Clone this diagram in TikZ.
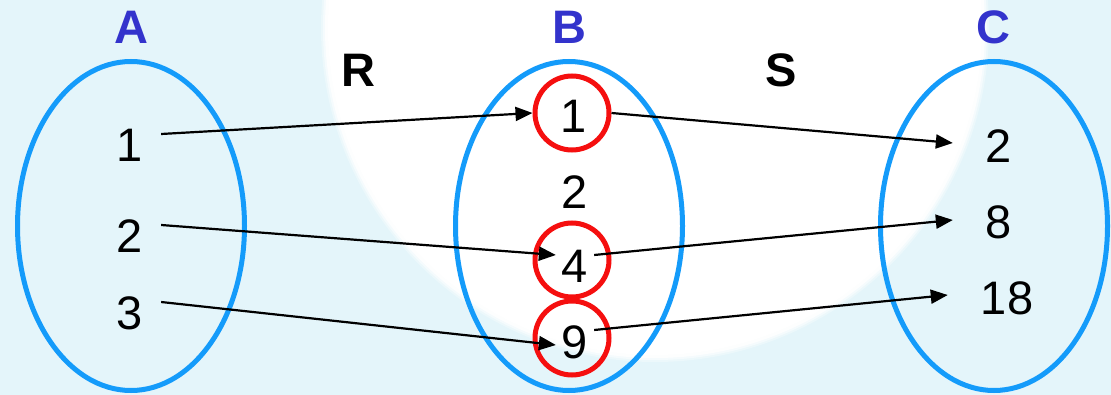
\documentclass[tikz,border=0pt]{standalone}
\usepackage{fontspec}
\setmainfont{Liberation Sans}
\usetikzlibrary{arrows.meta,shapes.geometric}

\definecolor{bgblue}{RGB}{228,245,250}
\definecolor{setblue}{RGB}{20,155,250}
\definecolor{labelblue}{RGB}{51,51,204}
\definecolor{ringred}{RGB}{245,15,15}

\newcommand{\bigfont}{\fontsize{47}{56}\selectfont}

\begin{document}
\begin{tikzpicture}[x=1pt, y=-1pt, >={Triangle[length=17pt,width=14pt]}, line width=2.2pt,
    set/.style={draw=setblue, line width=5pt, ellipse, minimum width=227pt, minimum height=329pt},
    ring/.style={draw=ringred, line width=5pt, circle, minimum size=74pt},
    setname/.style={font=\bigfont\bfseries, text=labelblue},
    relname/.style={font=\bigfont\bfseries},
    numA/.style={font=\bigfont, inner xsep=17pt, inner ysep=0pt},
    numB/.style={font=\bigfont, inner xsep=5pt, inner ysep=0pt},
    numC/.style={font=\bigfont, inner xsep=32pt, inner ysep=0pt}]
    % Background
    \useasboundingbox (0,0) rectangle (1111,395);
    \clip (0,0) rectangle (1111,395);
    \fill[bgblue] (0,0) rectangle (1111,395);
    \foreach \r/\o in {334/0.3, 332/0.5, 330/0.8, 327/1}
        \fill[white, opacity=\o] (655,28) circle (\r);

    % Sets
    \node[set] (setA) at (131,226) {};
    \node[set] (setB) at (569,226) {};
    \node[set] (setC) at (994,226) {};
    \node[setname] (nameA) at (131,27) {A};
    \node[setname] (nameB) at (569,27) {B};
    \node[setname] (nameC) at (993,27) {C};

    % Relations
    \node[relname] (nameR) at (358,70) {R};
    \node[relname] (nameS) at (781,70) {S};

    % Elements of A
    \node[numA] (a1) at (130,145) {1};
    \node[numA] (a2) at (130,236) {2};
    \node[numA] (a3) at (130,313) {3};

    % Elements of B
    \node[numB] (b1) at (574,116) {1};
    \node[numB] (b2) at (575,192) {2};
    \node[numB] (b4) at (575,266) {4};
    \node[numB] (b9) at (575,342) {9};
    \node[ring] (r1) at (572,113) {};
    \node[ring] (r4) at (572,260) {};
    \node[ring] (r9) at (572,338) {};

    % Elements of C
    \node[numC] (c2) at (999,146) {2};
    \node[numC] (c8) at (999,222) {8};
    \node[numC] (c18) at (1007,298) {18};

    % R
    \draw[->] ([yshift=11pt]a1.east) -- (r1.west);
    \draw[->] ([yshift=11pt]a2.east) -- ([yshift=11pt]b4.west);
    \draw[->] ([yshift=11pt]a3.east) -- ([yshift=-3pt]b9.west);

    % S
    \draw[->] (r1.east) -- ([yshift=3pt]c2.west);
    \draw[->] ([yshift=11pt]b4.east) -- ([yshift=2pt]c8.west);
    \draw[->] ([yshift=12pt]b9.east) -- ([yshift=3pt]c18.west);
\end{tikzpicture}
\end{document}
